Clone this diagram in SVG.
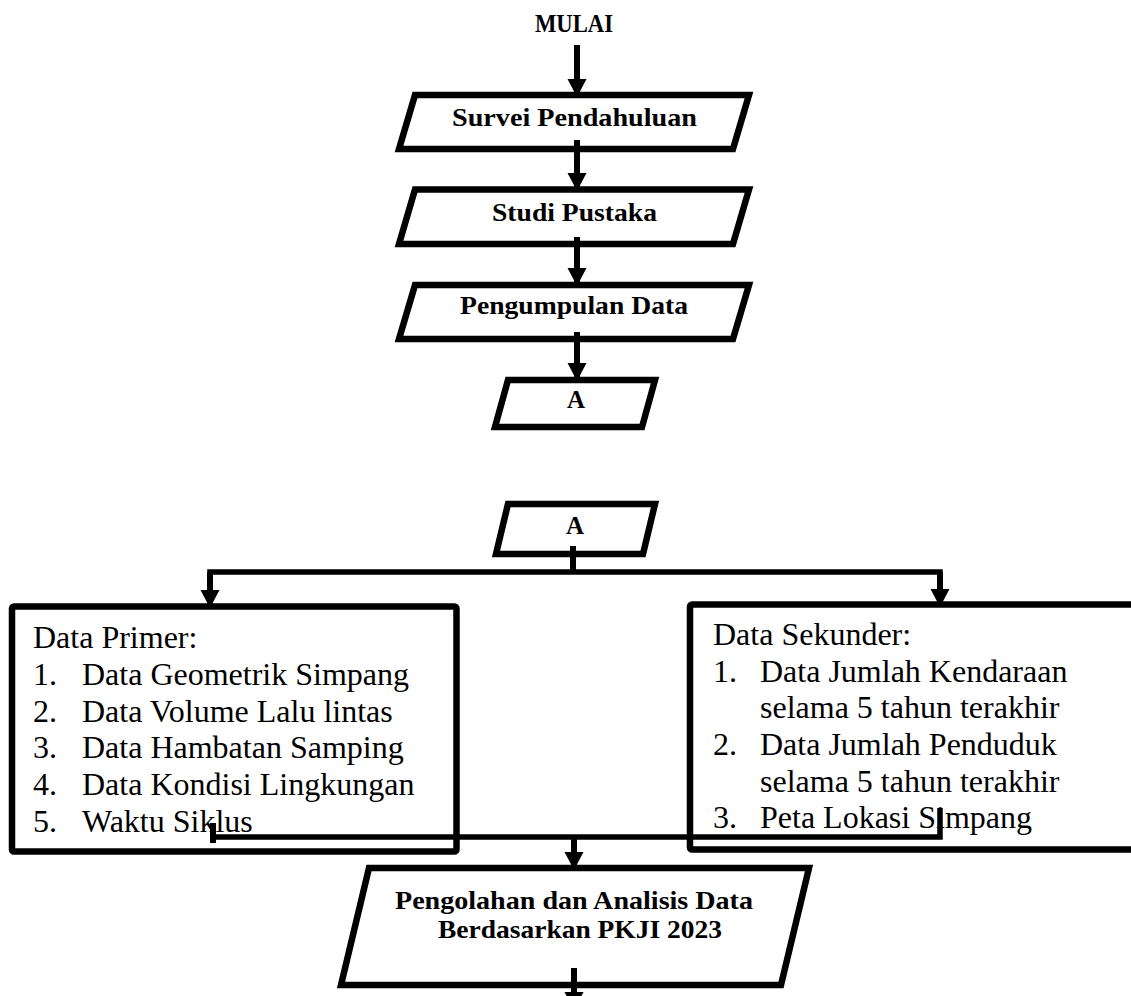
<svg xmlns="http://www.w3.org/2000/svg" width="1131" height="996" viewBox="0 0 1131 996">
<style>
.shape{fill:#fff;stroke:#000;stroke-width:6.5;stroke-linejoin:miter}
.box{fill:#fff;stroke:#000;stroke-width:6.5}
.b{font-family:"Liberation Serif","Times New Roman",serif;font-weight:bold;font-size:25px;fill:#000;text-anchor:middle}
.r{font-family:"Liberation Serif","Times New Roman",serif;font-size:32px;fill:#000}
.ln{fill:none;stroke:#000;stroke-width:6;stroke-linejoin:miter}
.thin{fill:none;stroke:#000;stroke-width:5.5}
</style>
<defs>
<marker id="ah" markerUnits="userSpaceOnUse" markerWidth="20" markerHeight="20" refX="18" refY="9.5" orient="auto">
<path d="M0,0 L18,9.5 L0,19 z" fill="#000"/>
</marker>
</defs>
<rect width="1131" height="996" fill="#fff"/>

<g id="mulai"><text class="b" x="574" y="32" textLength="78" lengthAdjust="spacingAndGlyphs">MULAI</text></g>

<g id="survei">
<polygon class="shape" points="415,95 749,95 733,149 399,149"/>
<text class="b" x="574.5" y="126" textLength="245" lengthAdjust="spacingAndGlyphs">Survei Pendahuluan</text>
</g>
<g id="studi">
<polygon class="shape" points="415,189.5 749,189.5 733,244 399,244"/>
<text class="b" x="574.5" y="221" textLength="165" lengthAdjust="spacingAndGlyphs">Studi Pustaka</text>
</g>
<g id="pengumpulan">
<polygon class="shape" points="415,285 749,285 733,339 399,339"/>
<text class="b" x="574" y="314" textLength="228" lengthAdjust="spacingAndGlyphs">Pengumpulan Data</text>
</g>
<g id="a1">
<polygon class="shape" points="508,380 655,380 642,427 495,427"/>
<text class="b" x="576" y="408">A</text>
</g>
<g id="a2">
<polygon class="shape" points="508,504 655,504 643,554 496,554"/>
<text class="b" x="575" y="534">A</text>
</g>

<g id="primer">
<rect class="box" x="12" y="606.5" width="444.5" height="245" rx="2"/>
<text class="r" y="648"><tspan x="33">Data Primer:</tspan></text>
<text class="r"><tspan x="33" y="685">1.</tspan><tspan x="82" y="685">Data Geometrik Simpang</tspan></text>
<text class="r"><tspan x="33" y="722">2.</tspan><tspan x="82" y="722">Data Volume Lalu lintas</tspan></text>
<text class="r"><tspan x="33" y="758">3.</tspan><tspan x="82" y="758">Data Hambatan Samping</tspan></text>
<text class="r"><tspan x="33" y="795">4.</tspan><tspan x="82" y="795">Data Kondisi Lingkungan</tspan></text>
<text class="r"><tspan x="33" y="832">5.</tspan><tspan x="82" y="832">Waktu Siklus</tspan></text>
</g>

<g id="sekunder">
<rect class="box" x="690" y="604.5" width="500" height="245" rx="2"/>
<text class="r" y="645"><tspan x="713">Data Sekunder:</tspan></text>
<text class="r"><tspan x="713" y="682">1.</tspan><tspan x="760" y="682">Data Jumlah Kendaraan</tspan></text>
<text class="r"><tspan x="760" y="718">selama 5 tahun terakhir</tspan></text>
<text class="r"><tspan x="713" y="755">2.</tspan><tspan x="760" y="755">Data Jumlah Penduduk</tspan></text>
<text class="r"><tspan x="760" y="792">selama 5 tahun terakhir</tspan></text>
<text class="r"><tspan x="713" y="828">3.</tspan><tspan x="760" y="828">Peta Lokasi Simpang</tspan></text>
</g>

<g id="pengolahan">
<polygon class="shape" points="369,868 809,868 781,985 341,985"/>
<text class="b" x="574" y="909" textLength="358" lengthAdjust="spacingAndGlyphs">Pengolahan dan Analisis Data</text>
<text class="b" x="580" y="938" textLength="284" lengthAdjust="spacingAndGlyphs">Berdasarkan PKJI 2023</text>
</g>

<g id="connectors">
<line class="ln" x1="577" y1="45" x2="577" y2="97" marker-end="url(#ah)"/>
<line class="ln" x1="577" y1="140" x2="577" y2="191" marker-end="url(#ah)"/>
<line class="ln" x1="577" y1="237" x2="577" y2="286" marker-end="url(#ah)"/>
<line class="ln" x1="577" y1="332" x2="577" y2="381" marker-end="url(#ah)"/>
<line class="ln" x1="573" y1="546" x2="573" y2="572"/>
<polyline class="thin" points="210,607 210,572 940,572 940,607"/>
<line class="ln" x1="210" y1="572" x2="210" y2="608" marker-end="url(#ah)"/>
<line class="ln" x1="940" y1="572" x2="940" y2="607" marker-end="url(#ah)"/>
<line class="ln" x1="213" y1="823" x2="213" y2="843"/>
<polyline class="thin" points="213,837 940,837 940,808"/>
<line class="ln" x1="574" y1="837" x2="574" y2="870" marker-end="url(#ah)"/>
<line class="ln" x1="574" y1="968" x2="574" y2="1010" marker-end="url(#ah)"/>
</g>
</svg>
